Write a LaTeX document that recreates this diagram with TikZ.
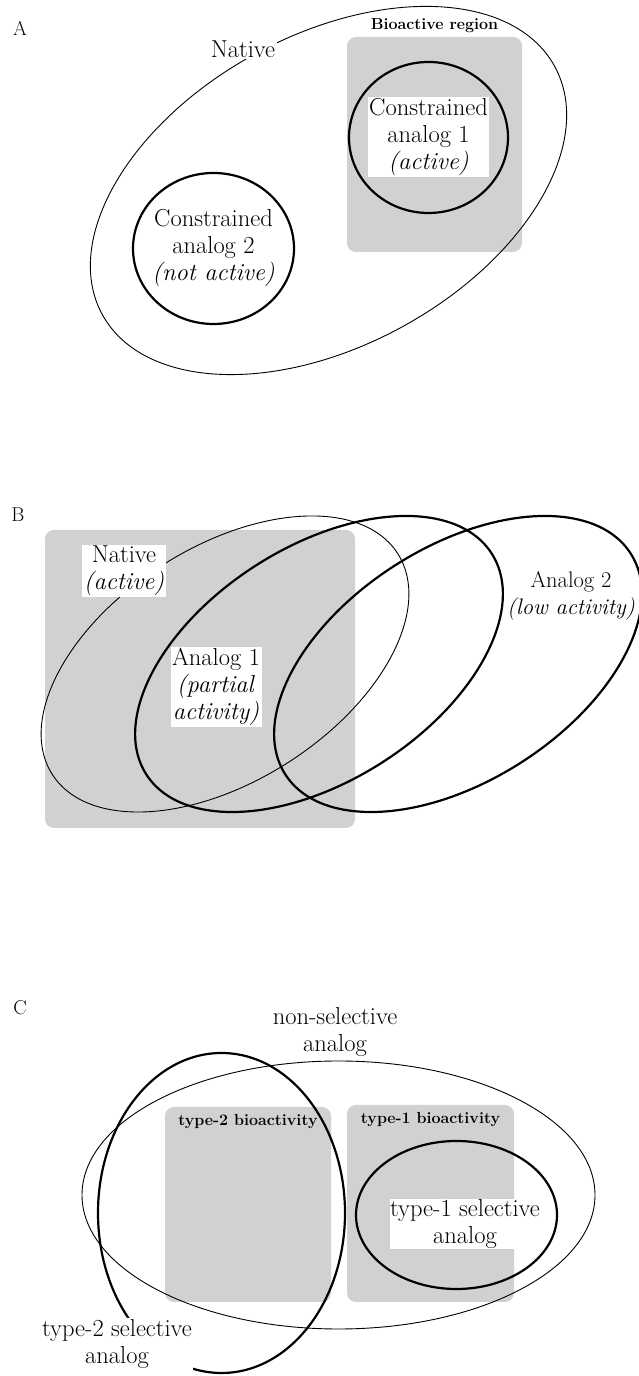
\documentclass[tikz,border=0pt]{standalone}
\usepackage{tikz}
\usetikzlibrary{shapes.geometric,positioning}

\tikzset{
  blob/.style={draw, ellipse, inner sep=0pt, line width=0.9pt},
  heavy blob/.style={blob, line width=2.2pt},
  region/.style={fill=black!18, rounded corners=9pt, inner sep=0pt},
  lbl/.style={font=\fontsize{24.5}{27}\selectfont, align=center, inner sep=1.5pt},
  tag/.style={font=\fontsize{16}{18}\selectfont\bfseries, inner sep=1pt},
  panel/.style={font=\fontsize{20}{22}\selectfont}
}

\begin{document}
\begin{tikzpicture}[x=1pt,y=1pt]
\useasboundingbox (0,0) rectangle (639,1376);

% A
\node[panel] (labA) at (20,1348) {A};
\node[region, minimum width=175, minimum height=215] (regA) at (434.5,1231.5) {};
\node[tag, above=3pt of regA.north] (tagA) {Bioactive region};
\node[blob, minimum width=516, minimum height=310, rotate=28.8] (natA) at (328.5,1185.5) {};
\node[heavy blob, minimum width=159, minimum height=151] (conA1) at (428.5,1238.5) {};
\node[heavy blob, minimum width=161, minimum height=151] (conA2) at (213.5,1127.5) {};
\node[lbl, fill=white] (natAtxt) at (243,1327) {Native};
\node[lbl, fill=white] (conA1txt) at (428.5,1239) {Constrained\\analog 1\\\textit{(active)}};
\node[lbl] (conA2txt) at (213.5,1127.5) {Constrained\\analog 2\\\textit{(not active)}};

% B
\node[panel] (labB) at (18,861) {B};
\node[region, minimum width=310, minimum height=298] (regB) at (200,697) {};
\node[blob, minimum width=410, minimum height=234, rotate=32.6] (natB) at (225,712) {};
\node[heavy blob, minimum width=410, minimum height=234, rotate=32.6] (anaB1) at (319,712) {};
\node[heavy blob, minimum width=410, minimum height=234, rotate=32.6] (anaB2) at (458,712) {};
\node[lbl, fill=white] (natBtxt) at (124,805) {Native\\\textit{(active)}};
\node[lbl, fill=white] (anaB1txt) at (216,689) {Analog 1\\\textit{(partial}\\\textit{activity)}};
\node[lbl, font=\fontsize{22.5}{27}\selectfont] (anaB2txt) at (571,780) {Analog 2\\\textit{(low activity)}};

% C
\node[panel] (labC) at (20,368) {C};
\node[lbl] (nonseltxt) at (335,343.5) {non-selective\\analog};
\node[region, minimum width=166, minimum height=195] (regT2) at (248,171.5) {};
\node[region, minimum width=167, minimum height=197] (regT1) at (430.5,172.5) {};
\node[blob, minimum width=513, minimum height=268] (nonsel) at (338.5,181) {};
\node[heavy blob, minimum width=247, minimum height=320] (selT2) at (221.5,163) {};
\node[heavy blob, minimum width=201, minimum height=148] (selT1) at (456.5,161) {};
\node[tag, below=6pt of regT2.north] (tagT2) {type-2 bioactivity};
\node[tag, below=6pt of regT1.north] (tagT1) {type-1 bioactivity};
\node[lbl, fill=white, inner sep=0.5pt] (selT1txt) at (465,152) {type-1 selective\\analog};
\node[lbl, fill=white] (selT2txt) at (117,32) {type-2 selective\\analog};
\end{tikzpicture}
\end{document}
